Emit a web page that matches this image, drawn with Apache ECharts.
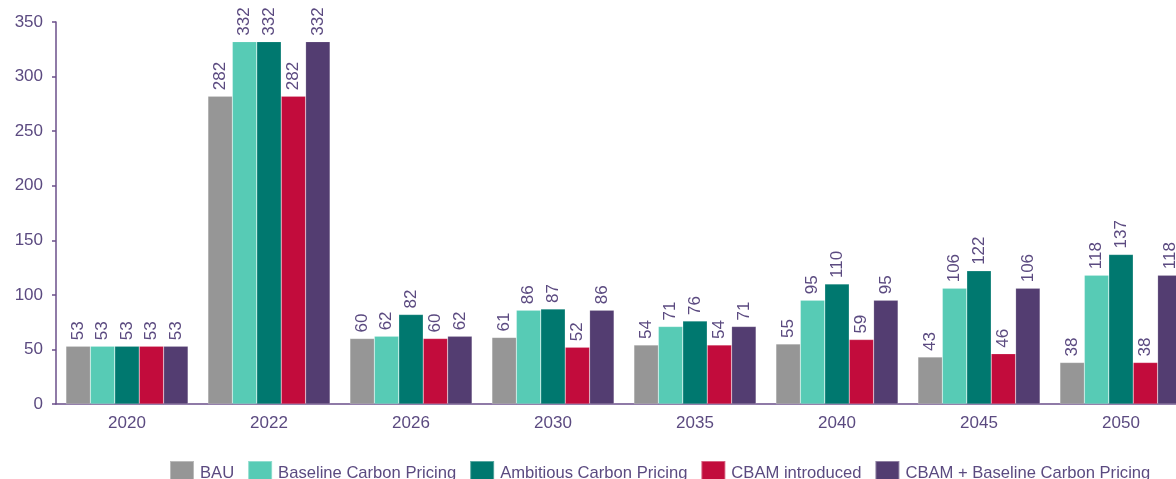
<!DOCTYPE html>
<html>
<head>
<meta charset="utf-8">
<script src="https://cdn.jsdelivr.net/npm/echarts@6/dist/echarts.min.js"></script>
<style>
  html, body { margin: 0; padding: 0; background: #ffffff; overflow: hidden; }
  #chart { width: 1176px; height: 479px; }
</style>
</head>
<body>
<div id="chart"></div>
<script>
// Categories (years) and scenario values
const years = ['2020', '2022', '2026', '2030', '2035', '2040', '2045', '2050'];
const bau = [53, 282, 60, 61, 54, 55, 43, 38];
const baselinePricing = [53, 332, 62, 86, 71, 95, 106, 118];
const ambitiousPricing = [53, 332, 82, 87, 76, 110, 122, 137];
const cbamIntroduced = [53, 282, 60, 52, 54, 59, 46, 38];
const cbamBaseline = [53, 332, 62, 86, 71, 95, 106, 118];

const seriesNames = ['BAU', 'Baseline Carbon Pricing', 'Ambitious Carbon Pricing', 'CBAM introduced', 'CBAM + Baseline Carbon Pricing'];
const seriesData = [bau, baselinePricing, ambitiousPricing, cbamIntroduced, cbamBaseline];
const colors = ['#969696', '#57cbb5', '#00786f', '#c20c3c', '#533d71'];

const textColor = '#5b4a80';
const axisColor = '#6b4f8a';
const fontFamily = 'Liberation Sans, Arial, sans-serif';

const chart = echarts.init(document.getElementById('chart'), null, { renderer: 'canvas' });

chart.setOption({
  animation: false,
  color: colors,
  textStyle: { fontFamily: fontFamily },
  // plot area runs past the right edge, so the last group is cut off
  grid: { left: 56, width: 1136, top: 22, height: 382, containLabel: false, outerBoundsMode: 'none' },
  legend: {
    left: 169,
    top: 460,
    width: 1100,
    padding: 0,
    itemWidth: 24,
    itemHeight: 24,
    itemGap: 13,
    icon: 'rect',
    textStyle: { color: textColor, fontSize: 16.6, fontFamily: fontFamily, padding: [0, 0, 0, 1] },
    data: seriesNames
  },
  xAxis: {
    type: 'category',
    data: years,
    axisLine: { show: true, lineStyle: { color: axisColor, width: 1.5 } },
    axisTick: { show: false },
    axisLabel: { color: textColor, fontSize: 17, margin: 11, fontFamily: fontFamily }
  },
  yAxis: {
    type: 'value',
    min: 0,
    max: 350,
    interval: 50,
    axisLine: { show: true, lineStyle: { color: axisColor, width: 1.5 } },
    axisTick: { show: true, length: 4, lineStyle: { color: axisColor, width: 1.5 } },
    axisLabel: { color: textColor, fontSize: 17, margin: 13, fontFamily: fontFamily },
    splitLine: { show: false }
  },
  series: seriesNames.map((name, i) => ({
    name: name,
    type: 'bar',
    data: seriesData[i],
    barGap: '0%',
    barCategoryGap: '14%',
    itemStyle: { color: colors[i], borderColor: 'rgba(255,255,255,0.35)', borderWidth: 0.5 },
    label: {
      show: true,
      position: 'top',
      rotate: 90,
      align: 'left',
      verticalAlign: 'middle',
      distance: 6,
      color: textColor,
      fontSize: 17,
      fontFamily: fontFamily
    }
  }))
});
</script>
</body>
</html>
